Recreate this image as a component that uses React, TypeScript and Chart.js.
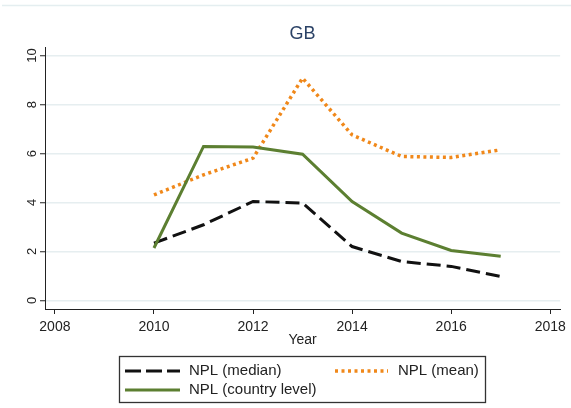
import React, { useEffect, useRef } from "react";
import { Chart, registerables } from "chart.js";

Chart.register(...registerables);

const years = [2010, 2011, 2012, 2013, 2014, 2015, 2016, 2017];
const nplMedian = [2.34, 3.09, 4.04, 3.98, 2.2, 1.59, 1.39, 0.98];
const nplMean = [4.31, 5.13, 5.81, 9.08, 6.76, 5.88, 5.84, 6.15];
const nplCountry = [2.14, 6.29, 6.27, 5.97, 4.04, 2.75, 2.04, 1.8];
const xTicks = [2008, 2010, 2012, 2014, 2016, 2018];
const yTicks = [0, 2, 4, 6, 8, 10];
const chartTitle = "GB";
const xTitle = "Year";
const seriesLabels = ["NPL (median)", "NPL (mean)", "NPL (country level)"];

const FONT = '"Liberation Sans", Arial, sans-serif';
const C_MEDIAN = "#111111";
const C_MEAN = "#F0881A";
const C_COUNTRY = "#5C7F31";
const TEXT = "#222222";

const decor = {
  id: "decor",
  afterDraw(chart: any) {
    const ctx = chart.ctx as CanvasRenderingContext2D;
    const area = chart.chartArea;
    ctx.save();
    // faint top frame line
    ctx.strokeStyle = "#e4eef0";
    ctx.lineWidth = 1.5;
    ctx.beginPath();
    ctx.moveTo(2, 5.5);
    ctx.lineTo(571, 5.5);
    ctx.stroke();

    const cx = (area.left + area.right) / 2;
    ctx.textAlign = "center";
    ctx.textBaseline = "middle";
    ctx.fillStyle = "#2b4266";
    ctx.font = `18px ${FONT}`;
    ctx.fillText(chartTitle, cx, 34);

    ctx.fillStyle = TEXT;
    ctx.font = `14px ${FONT}`;
    ctx.fillText(xTitle, cx, 340);

    // legend box
    ctx.strokeStyle = "#333333";
    ctx.lineWidth = 1.3;
    ctx.setLineDash([]);
    ctx.strokeRect(119.5, 356.5, 366, 46);

    const drawSample = (x1: number, x2: number, y: number, color: string, width: number, dash: number[]) => {
      ctx.beginPath();
      ctx.strokeStyle = color;
      ctx.lineWidth = width;
      ctx.setLineDash(dash);
      ctx.lineCap = "butt";
      ctx.moveTo(x1, y);
      ctx.lineTo(x2, y);
      ctx.stroke();
    };
    drawSample(125, 180, 371, C_MEDIAN, 3, [16, 5]);
    drawSample(335, 388, 371, C_MEAN, 3.5, [3, 3.5]);
    drawSample(125, 180, 390, C_COUNTRY, 3, []);
    ctx.setLineDash([]);

    ctx.textAlign = "left";
    ctx.fillStyle = TEXT;
    ctx.font = `15px ${FONT}`;
    ctx.fillText(seriesLabels[0], 189, 371);
    ctx.fillText(seriesLabels[1], 398, 371);
    ctx.fillText(seriesLabels[2], 189, 390);
    ctx.restore();
  },
};

export default function App() {
  const ref = useRef<HTMLCanvasElement | null>(null);

  useEffect(() => {
    if (!ref.current) return;
    const pts = (vals: number[]) => years.map((y, i) => ({ x: y, y: vals[i] }));
    const chart = new Chart(ref.current, {
      type: "line",
      data: {
        datasets: [
          {
            label: seriesLabels[0],
            data: pts(nplMedian),
            borderColor: C_MEDIAN,
            borderWidth: 3,
            borderDash: [14, 6],
            pointRadius: 0,
            tension: 0,
            order: 3,
          },
          {
            label: seriesLabels[1],
            data: pts(nplMean),
            borderColor: C_MEAN,
            borderWidth: 3.5,
            borderDash: [3, 3.5],
            pointRadius: 0,
            tension: 0,
            order: 2,
          },
          {
            label: seriesLabels[2],
            data: pts(nplCountry),
            borderColor: C_COUNTRY,
            borderWidth: 3,
            pointRadius: 0,
            tension: 0,
            order: 1,
          },
        ],
      },
      options: {
        responsive: false,
        animation: false,
        devicePixelRatio: 1,
        layout: { padding: { top: 47, right: 10, left: 0, bottom: 0 } },
        plugins: {
          legend: { display: false },
          title: { display: false },
          tooltip: { enabled: false },
        },
        scales: {
          x: {
            type: "linear",
            min: 2007.8,
            max: 2018.2,
            afterFit: (s: any) => {
              s.height = 99;
            },
            afterBuildTicks: (s: any) => {
              s.ticks = xTicks.map((v) => ({ value: v }));
            },
            grid: {
              drawOnChartArea: false,
              drawTicks: true,
              tickLength: 5,
              tickColor: "#222",
              tickWidth: 1,
            },
            border: { display: true, color: "#222", width: 1 },
            ticks: {
              color: TEXT,
              font: { family: FONT, size: 14 },
              padding: 5,
              maxRotation: 0,
              autoSkip: false,
              callback: (v: any) => String(v),
            },
          },
          y: {
            type: "linear",
            min: -0.35,
            max: 10.35,
            afterFit: (s: any) => {
              s.width = 45;
            },
            afterBuildTicks: (s: any) => {
              s.ticks = yTicks.map((v) => ({ value: v }));
            },
            grid: {
              color: "#e6eef0",
              lineWidth: 1.5,
              drawTicks: true,
              tickLength: 5,
              tickColor: "#222",
              tickWidth: 1,
            },
            border: { display: true, color: "#222", width: 1 },
            ticks: {
              color: TEXT,
              font: { family: FONT, size: 13 },
              padding: 0,
              minRotation: 90,
              maxRotation: 90,
              crossAlign: "center",
              autoSkip: false,
              callback: (v: any) => String(v),
            },
          },
        },
      },
      plugins: [decor],
    });
    return () => chart.destroy();
  }, []);

  return (
    <div style={{ position: "absolute", left: 0, top: 0, width: 571, height: 408, background: "#fff" }}>
      <canvas ref={ref} width={571} height={408} style={{ display: "block" }} />
    </div>
  );
}
